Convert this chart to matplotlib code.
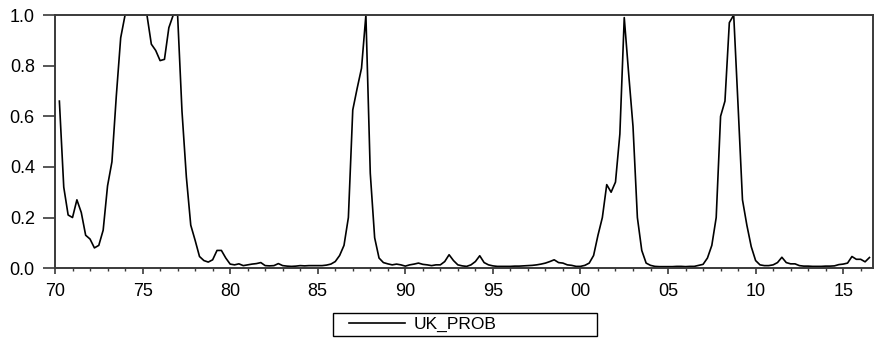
"""UK recession probability, quarterly 1970-2016."""

import matplotlib

matplotlib.use("Agg")
import matplotlib.pyplot as plt  # noqa: E402
import numpy as np  # noqa: E402
from matplotlib.patches import Rectangle  # noqa: E402

plt.rcParams["font.family"] = ["Liberation Sans", "DejaVu Sans"]

start_year = 1970.25  # first quarter plotted
series_name = "UK_PROB"

uk_prob = [
    0.66, 0.32, 0.21, 0.20, 0.27, 0.22, 0.13, 0.115, 0.08, 0.09,
    0.15, 0.325, 0.42, 0.68, 0.91, 1.0, 1.0, 1.0, 1.0, 1.0,
    1.0, 0.885, 0.86, 0.82, 0.825, 0.95, 1.0, 1.0, 0.62, 0.36,
    0.17, 0.11, 0.046, 0.03, 0.024, 0.033, 0.07, 0.07, 0.04, 0.016,
    0.013, 0.017, 0.01, 0.013, 0.016, 0.018, 0.022, 0.01, 0.009, 0.01,
    0.018, 0.01, 0.008, 0.007, 0.008, 0.01, 0.009, 0.01, 0.01, 0.01,
    0.01, 0.012, 0.016, 0.026, 0.05, 0.09, 0.2, 0.625, 0.71, 0.79,
    1.0, 0.375, 0.12, 0.04, 0.022, 0.017, 0.013, 0.016, 0.013, 0.008,
    0.013, 0.016, 0.02, 0.015, 0.013, 0.01, 0.013, 0.013, 0.026, 0.053,
    0.03, 0.013, 0.009, 0.007, 0.013, 0.026, 0.049, 0.022, 0.013, 0.009,
    0.007, 0.007, 0.007, 0.007, 0.008, 0.008, 0.009, 0.01, 0.011, 0.013,
    0.016, 0.02, 0.026, 0.033, 0.022, 0.02, 0.013, 0.011, 0.007, 0.007,
    0.011, 0.02, 0.05, 0.13, 0.2, 0.33, 0.30, 0.34, 0.53, 0.99,
    0.77, 0.56, 0.2, 0.07, 0.02, 0.011, 0.007, 0.006, 0.006, 0.006,
    0.006, 0.007, 0.007, 0.006, 0.007, 0.007, 0.011, 0.015, 0.04, 0.09,
    0.2, 0.6, 0.66, 0.97, 1.0, 0.64, 0.27, 0.17, 0.085, 0.03,
    0.013, 0.01, 0.01, 0.013, 0.022, 0.043, 0.022, 0.017, 0.017, 0.01,
    0.008, 0.008, 0.007, 0.007, 0.007, 0.008, 0.008, 0.009, 0.014, 0.016,
    0.02, 0.046, 0.035, 0.035, 0.025, 0.042,
]

major_years = [1970, 1975, 1980, 1985, 1990, 1995, 2000, 2005, 2010, 2015]
major_labels = ["70", "75", "80", "85", "90", "95", "00", "05", "10", "15"]
y_ticks = [0.0, 0.2, 0.4, 0.6, 0.8, 1.0]

dates = start_year + 0.25 * np.arange(len(uk_prob))

W, H = 880, 339
fig = plt.figure(figsize=(W / 100, H / 100), dpi=100)
ax = fig.add_axes([0.0625, 0.209, 0.9295, 0.7466])
line, = ax.plot(dates, uk_prob, color="black", linewidth=1.2, label=series_name,
                clip_on=False)

ax.set_xlim(1970, 2016.7)
ax.set_ylim(0, 1.0)
ax.set_xticks(major_years)
ax.set_xticklabels(major_labels)
ax.set_xticks(np.arange(1970, 2017), minor=True)
ax.set_yticks(y_ticks)
ax.set_yticklabels([f"{v:.1f}" for v in y_ticks])

edge = "#3a3a3a"
for s in ax.spines.values():
    s.set_color(edge)
    s.set_linewidth(1.4)
ax.tick_params(axis="y", direction="out", length=8.5, width=1.2, color=edge,
               pad=6, labelsize=13)
ax.tick_params(axis="x", which="major", direction="out", length=4.5, width=1.2,
               color=edge, pad=6, labelsize=13)
ax.tick_params(axis="x", which="minor", direction="out", length=2.5, width=1.0,
               color=edge)

# legend box below the plot, wider than its content
fig.patches.append(Rectangle((333 / W, 1 - 336 / H), 264 / W, 23 / H,
                             transform=fig.transFigure, fill=False,
                             edgecolor="black", linewidth=1.0))
fig.legend(handles=[line], loc="center left", bbox_to_anchor=(349 / W, 1 - 324.5 / H),
           frameon=False, borderpad=0, borderaxespad=0, fontsize=12.5,
           handlelength=3.2, handletextpad=0.55)

fig.savefig("out.png", dpi=100)
plt.close(fig)
